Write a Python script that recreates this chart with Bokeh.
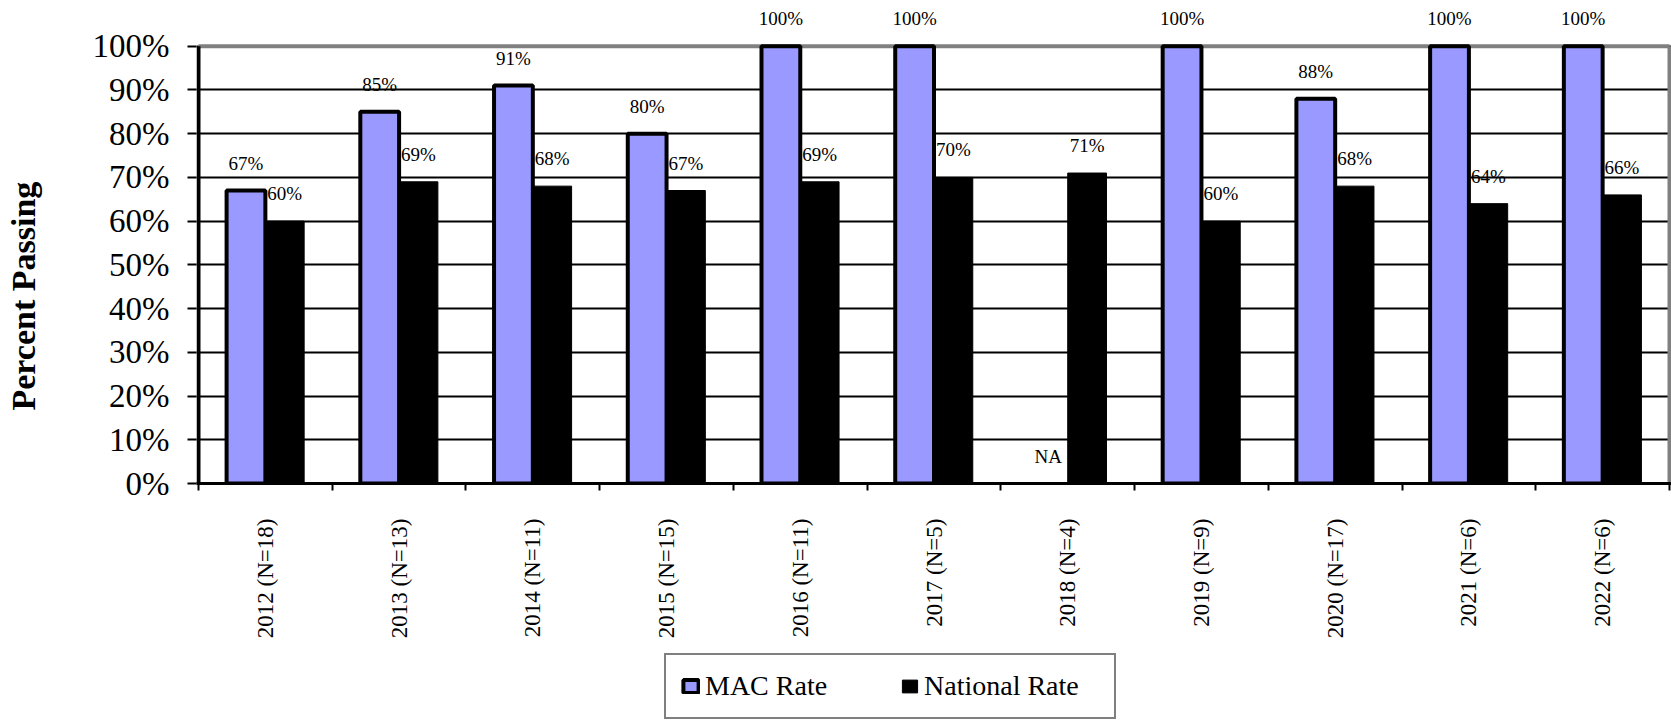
from math import pi
from bokeh.plotting import figure
from bokeh.layouts import column
from bokeh.models import (ColumnDataSource, FixedTicker, LabelSet, Legend,
                          LegendItem, Range1d, Title)
from bokeh.core.properties import value
from bokeh.embed import file_html
from bokeh.resources import INLINE

# ---------------- data ----------------
categories = ["2012 (N=18)", "2013 (N=13)", "2014 (N=11)", "2015 (N=15)",
              "2016 (N=11)", "2017 (N=5)", "2018 (N=4)", "2019 (N=9)",
              "2020 (N=17)", "2021 (N=6)", "2022 (N=6)"]
mac_rate = [67, 85, 91, 80, 100, 100, None, 100, 88, 100, 100]
national_rate = [60, 69, 68, 67, 69, 70, 71, 60, 68, 64, 66]
series_names = ["MAC Rate", "National Rate"]
y_ticks = [0, 10, 20, 30, 40, 50, 60, 70, 80, 90, 100]
y_tick_labels = ["0%", "10%", "20%", "30%", "40%", "50%", "60%", "70%",
                 "80%", "90%", "100%"]
y_title = "Percent Passing"
na_label = "NA"

# ---------------- style ----------------
FONT = "Liberation Serif"
MAC_COLOR = "#9999FF"
NAT_COLOR = "#000000"
BORDER_GREY = "#808080"
BAR_W = 0.29
OFF = 0.145
XPAD = 0.015       # room so the frame lines are not clipped
Y_HEADROOM = 10    # room above 100% for the data labels
W = 1671
H_MAIN = 652
H_LEGEND = 68

n = len(categories)
y_max = y_ticks[-1]
centers = [i + 0.5 for i in range(n)]

mac_idx = [i for i, v in enumerate(mac_rate) if v is not None]
mac_bars = ColumnDataSource(dict(
    x=[centers[i] - OFF for i in mac_idx],
    top=[mac_rate[i] for i in mac_idx],
))
nat_bars = ColumnDataSource(dict(
    x=[c + OFF for c in centers],
    top=national_rate,
))
mac_labels = ColumnDataSource(dict(
    x=[c - OFF for c in centers],
    y=[v if v is not None else 0 for v in mac_rate],
    text=[f"{v}%" if v is not None else na_label for v in mac_rate],
))
nat_labels = ColumnDataSource(dict(
    x=[c + OFF for c in centers],
    y=national_rate,
    text=[f"{v}%" for v in national_rate],
))

mac_style = dict(fill_color=MAC_COLOR, line_color="black", line_width=4)
nat_style = dict(fill_color=NAT_COLOR, line_color="black", line_width=1)

p = figure(width=W, height=H_MAIN,
           x_range=Range1d(-XPAD, n + XPAD),
           y_range=Range1d(y_ticks[0], y_max + Y_HEADROOM),
           output_backend="svg", toolbar_location=None,
           min_border_left=196, min_border_right=0,
           min_border_top=2, min_border_bottom=H_MAIN - 483)
p.background_fill_color = "white"
p.border_fill_color = "white"
p.outline_line_color = None

# plot-area border: grey top and right, black left
p.segment(x0=[0, n], y0=[y_max, 0], x1=[n, n], y1=[y_max, y_max],
          line_color=BORDER_GREY, line_width=4)

p.vbar(x="x", top="top", width=BAR_W, source=mac_bars, **mac_style)
p.vbar(x="x", top="top", width=BAR_W, source=nat_bars, **nat_style)

p.segment(x0=[0], y0=[0], x1=[0], y1=[y_max], line_color="black", line_width=4)

# x axis: labels at category centers, ticks at category boundaries
xa = p.xaxis[0]
xa.ticker = FixedTicker(ticks=centers, minor_ticks=list(range(n + 1)))
overrides = {}
for c, cat in zip(centers, categories):
    overrides[c] = cat
    overrides[str(c)] = cat
xa.major_label_overrides = overrides
xa.major_label_orientation = pi / 2
xa.major_tick_out = 0
xa.major_tick_in = 0
xa.minor_tick_out = 7
xa.minor_tick_in = 0
xa.minor_tick_line_color = "black"
xa.minor_tick_line_width = 2
xa.axis_line_color = "black"
xa.axis_line_width = 3
xa.major_label_text_font = FONT
xa.major_label_text_font_size = "23px"
xa.major_label_text_color = "black"
xa.major_label_standoff = 28

# y axis
ya = p.yaxis[0]
ya.ticker = FixedTicker(ticks=y_ticks, minor_ticks=[])
ya.major_label_overrides = {t: lab for t, lab in zip(y_ticks, y_tick_labels)}
ya.major_tick_out = 9
ya.major_tick_in = 0
ya.major_tick_line_color = "black"
ya.major_tick_line_width = 2
ya.minor_tick_line_color = None
ya.axis_line_color = None
ya.major_label_text_font = FONT
ya.major_label_text_font_size = "33px"
ya.major_label_text_color = "black"
ya.major_label_standoff = 18
# blank axis label used only as a spacer between tick labels and the title
ya.axis_label = " "
ya.axis_label_text_font_size = "10px"
ya.axis_label_standoff = 34

# y title, placed lower than the frame centre as in the reference
p.add_layout(Title(text=y_title, align="left", offset=73, standoff=0,
                   text_font=FONT, text_font_style="bold",
                   text_font_size="34px", text_color="black"), "left")

p.xgrid.visible = False
p.ygrid.ticker = FixedTicker(ticks=y_ticks, minor_ticks=[])
p.ygrid.grid_line_color = "black"
p.ygrid.grid_line_width = 2

# data labels
for src in (mac_labels, nat_labels):
    p.add_layout(LabelSet(x="x", y="y", text="text", source=src,
                          text_font=value(FONT), text_font_size=value("19px"),
                          text_color=value("black"), text_align=value("center"),
                          text_baseline=value("alphabetic"), y_offset=21))

# ---------------- legend strip ----------------
# hidden copies of the bar renderers, used only for the legend swatches
pl = figure(width=W, height=H_LEGEND, output_backend="svg",
            x_range=Range1d(0, 1), y_range=Range1d(0, 1),
            toolbar_location=None, x_axis_location=None, y_axis_location=None,
            min_border=0)
pl.outline_line_color = None
pl.xgrid.visible = False
pl.ygrid.visible = False
pl.background_fill_color = "white"
pl.border_fill_color = "white"
lr_mac = pl.vbar(x="x", top="top", width=BAR_W, source=mac_bars,
                 visible=False, **mac_style)
lr_nat = pl.vbar(x="x", top="top", width=BAR_W, source=nat_bars,
                 visible=False, **nat_style)

legend = Legend(items=[LegendItem(label=series_names[0], renderers=[lr_mac]),
                       LegendItem(label=series_names[1], renderers=[lr_nat])],
                orientation="horizontal", location=(468, 1),
                padding=15, spacing=20, glyph_width=19, glyph_height=16,
                label_standoff=5, label_width=175,
                label_text_font=FONT, label_text_font_size="28px",
                label_text_color="black",
                border_line_color="black", border_line_width=2,
                background_fill_color="white", background_fill_alpha=1.0,
                inactive_fill_alpha=0.0,
                margin=0)
pl.add_layout(legend)

layout = column(p, pl, spacing=0)
open("out.html", "w").write(file_html(layout, INLINE))
